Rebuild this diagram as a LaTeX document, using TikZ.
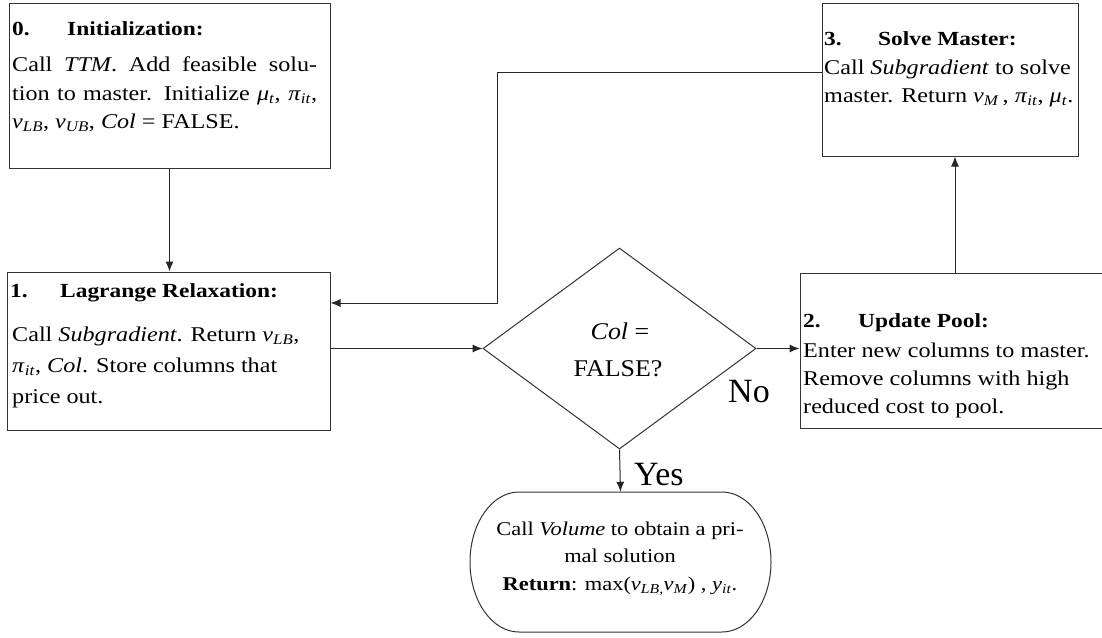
\documentclass[tikz,border=0pt]{standalone}
\usepackage{fontspec}
\setmainfont{Liberation Serif}
\newfontfamily\bodyf[FakeStretch=1.15]{Liberation Serif}
\newfontfamily\headf[FakeStretch=1.17]{Liberation Serif}
\newfontfamily\diaf[FakeStretch=1.08]{Liberation Serif}
\usetikzlibrary{shapes.geometric,arrows.meta}
\newcommand{\sbi}[2]{\textit{#1}\textsubscript{\textit{#2}}}
\begin{document}
\begin{tikzpicture}[x=1pt,y=-1pt,
  box/.style={draw=black!80, line width=1pt, inner sep=0pt},
  ln/.style={anchor=base west, inner sep=0pt, font=\bodyf\fontsize{21}{25}\selectfont},
  hd/.style={anchor=base west, inner sep=0pt, font=\headf\bfseries\fontsize{20}{24}\selectfont},
  tl/.style={anchor=base, inner sep=0pt, font=\bodyf\fontsize{19.5}{24}\selectfont},
  dl/.style={anchor=base, inner sep=0pt, font=\diaf\fontsize{24}{28}\selectfont},
  big/.style={anchor=base west, inner sep=0pt, font=\fontsize{34}{40}\selectfont},
  arr/.style={draw=black!85, line width=1pt, -{Latex[length=10pt,width=8pt]}}]
\useasboundingbox (0,0) rectangle (1102,637);

% boxes
\node[box, minimum width=321pt, minimum height=165pt] (b0) at (169.5,85.5) {};
\node[box, minimum width=323pt, minimum height=158pt] (b1) at (168.5,351) {};
\node[box, minimum width=304pt, minimum height=155pt] (b2) at (952,350.5) {};
\node[box, minimum width=256pt, minimum height=153pt] (b3) at (950,79.5) {};
\node[draw=black!80, line width=1pt, diamond, aspect=1.358, minimum width=273pt, minimum height=201pt, inner sep=0pt] (d) at (619.5,348.5) {};
\node[inner sep=0pt, minimum width=301pt, minimum height=140pt] (t) at (620.5,562) {};
\draw[line width=1pt, draw=black!80] (519,492) -- (722,492) arc[start angle=90, end angle=-90, x radius=49pt, y radius=70pt] -- (519,632) arc[start angle=-90, end angle=-270, x radius=49pt, y radius=70pt] -- cycle;

% box 0
\node[hd] (h0n) at (12,35) {0.};
\node[hd] (h0) at (67,35) {Initialization:};
\node[ln] (t0a) at (12,71) {\makebox[305pt][s]{Call \textit{TTM}. Add feasible solu-}};
\node[ln] (t0b) at (12,100) {\makebox[305pt][s]{tion to master. Initialize \sbi{μ}{t}, \sbi{π}{it},}};
\node[ln] (t0c) at (12,128) {\sbi{v}{LB}, \sbi{v}{UB}, \textit{Col} = FALSE.};

% box 1
\node[hd] (h1n) at (10,297) {1.};
\node[hd] (h1) at (60,297) {Lagrange Relaxation:};
\node[ln] (t1a) at (12,341) {Call \textit{Subgradient}. Return \sbi{v}{LB},};
\node[ln] (t1b) at (12,372) {\sbi{π}{it}, \textit{Col}. Store columns that};
\node[ln] (t1c) at (12,403) {price out.};

% box 2
\node[hd] (h2n) at (803,327) {2.};
\node[hd] (h2) at (858,327) {Update Pool:};
\node[ln] (t2a) at (803,357) {Enter new columns to master.};
\node[ln] (t2b) at (803,385) {Remove columns with high};
\node[ln] (t2c) at (803,413) {reduced cost to pool.};

% box 3
\node[hd] (h3n) at (824,45) {3.};
\node[hd] (h3) at (878,45) {Solve Master:};
\node[ln] (t3a) at (824,74) {Call \textit{Subgradient} to solve};
\node[ln] (t3b) at (824,102) {master. Return \sbi{v}{M}\,, \sbi{π}{it}, \sbi{μ}{t}.};

% diamond
\node[dl] (dq1) at (620,339) {\textit{Col} =};
\node[dl] (dq2) at (618,376) {FALSE?};
\node[big] (no) at (728,402) {No};
\node[big] (yes) at (634,485) {Yes};

% terminal
\node[tl] (ta) at (620,535) {Call \textit{Volume} to obtain a pri-};
\node[tl] (tb) at (620,562) {mal solution};
\node[tl] (tc) at (620,590) {\textbf{Return}: max(\sbi{v}{LB,}\sbi{v}{M}) , \sbi{y}{it}.};

% connectors
\coordinate (p2) at (955,0);
\coordinate (c1) at (497,72);
\coordinate (c2) at (497,303);
\draw[arr] (b0.south) -- (b0.south |- b1.north);
\draw[arr] (b1.east |- d.west) -- (d.west);
\draw[arr] (d.east) -- (d.east -| b2.west);
\draw[arr] (b2.north -| p2) -- (b3.south -| p2);
\draw[arr] (b3.west |- c1) -- (c1) -- (c2) -- (c2 -| b1.east);
\draw[arr] (d.south) -- (t.north);
\end{tikzpicture}
\end{document}
